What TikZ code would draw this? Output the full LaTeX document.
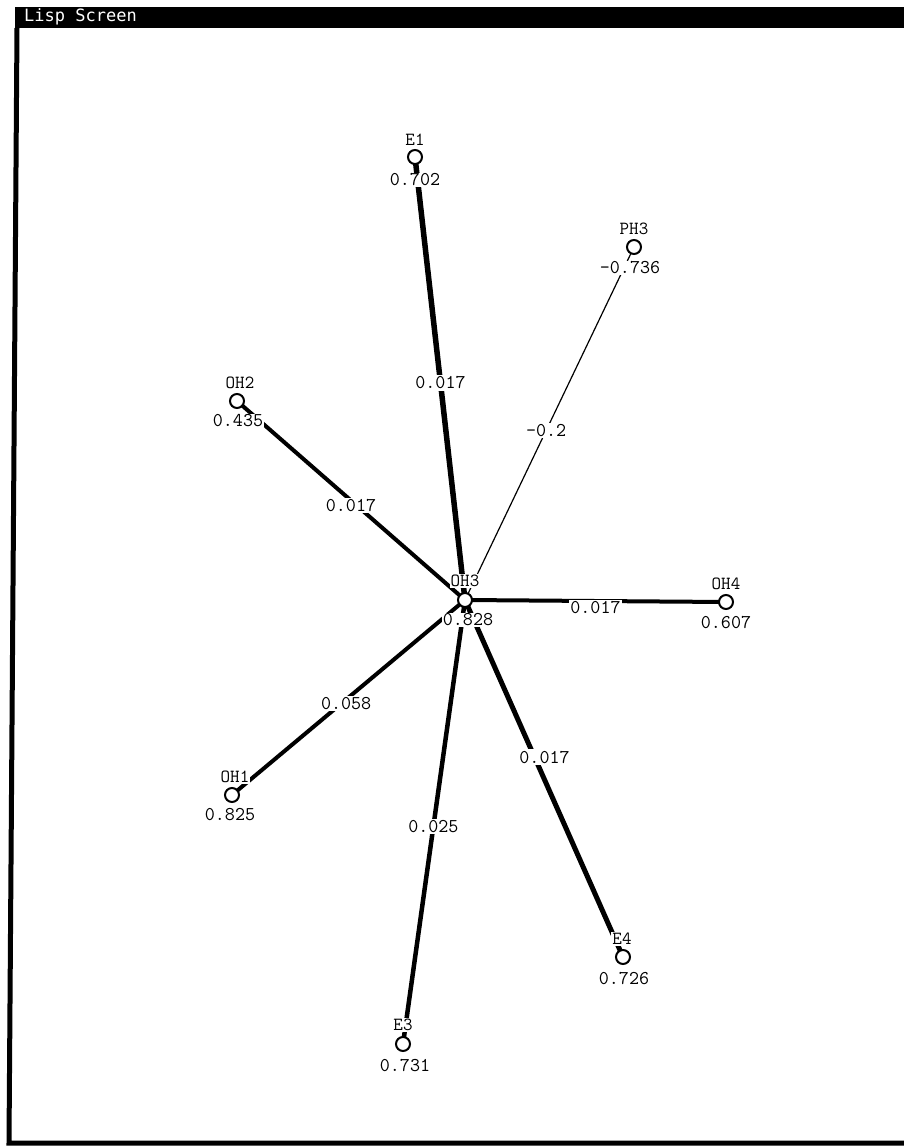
\documentclass[tikz,border=0pt]{standalone}
\usepackage{fontspec}
\usetikzlibrary{backgrounds}
\newfontfamily\titlefont{DejaVu Sans Mono}
\newcommand\lispfont[1]{\ttfamily\addfontfeatures{FakeBold=1.6}\fontsize{#1}{#1}\selectfont}
\tikzset{
  atom/.style={circle, draw=black, line width=2pt, fill=white, minimum size=14pt, inner sep=0pt},
  atomname/.style={font=\lispfont{18.5}, fill=white, inner sep=1pt},
  atomval/.style={font=\lispfont{19.5}, fill=white, inner sep=1pt},
  lbl/.style={font=\lispfont{19.5}, fill=white, inner sep=1.5pt},
  bond/.style={line width=4pt, draw=black},
}
\begin{document}
\begin{tikzpicture}[x=1pt,y=-1pt]
\useasboundingbox (0,0) rectangle (904,1146);
% window frame
\fill[black] (15,7) rectangle (904,28);
\node[anchor=west, text=white, font=\titlefont\fontsize{17}{17}\selectfont, inner sep=0pt] (title) at (24,17) {Lisp Screen};
\draw[line width=5pt] (17,28) -- (9,1143) -- (904,1143);

% atoms
\node[atom] (cE1) at (415,157) {};
\node[atomname] (nE1) at (415,140) {E1};
\node[atomval] (vE1) at (415,180) {0.702};

\node[atom] (cPH3) at (634,247) {};
\node[atomname] (nPH3) at (634,229) {PH3};
\node[atomval] (vPH3) at (630,268) {-0.736};

\node[atom] (cOH2) at (237,401) {};
\node[atomname] (nOH2) at (240,383) {OH2};
\node[atomval] (vOH2) at (238,421) {0.435};

\node[atom] (cOH3) at (465,600) {};
\node[atomname] (nOH3) at (465,581) {OH3};
\node[atomval] (vOH3) at (468,620) {0.828};

\node[atom] (cOH4) at (726,602) {};
\node[atomname] (nOH4) at (726,584) {OH4};
\node[atomval] (vOH4) at (726,623) {0.607};

\node[atom] (cOH1) at (232,795) {};
\node[atomname] (nOH1) at (235,777) {OH1};
\node[atomval] (vOH1) at (230,815) {0.825};

\node[atom] (cE4) at (623,957) {};
\node[atomname] (nE4) at (622,939) {E4};
\node[atomval] (vE4) at (624,979) {0.726};

\node[atom] (cE3) at (403,1044) {};
\node[atomname] (nE3) at (403,1025) {E3};
\node[atomval] (vE3) at (405,1066) {0.731};

% connectors
\begin{pgfonlayer}{background}
\draw[bond, line width=5.5pt] (cE1.center) -- (cOH3.center) node[lbl, pos=0.51] (wE1) {0.017};
\draw[line width=1.2pt] (cPH3.center) -- (cOH3.center) node[lbl, pos=0.52] (wPH3) {-0.2};
\draw[bond] (cOH2.center) -- (cOH3.center) node[lbl, pos=0.5, yshift=-5pt] (wOH2) {0.017};
\draw[bond] (cOH3.center) -- (cOH4.center) node[lbl, pos=0.5, yshift=-7pt] (wOH4) {0.017};
\draw[bond] (cOH1.center) -- (cOH3.center) node[lbl, pos=0.49, yshift=-4pt] (wOH1) {0.058};
\draw[bond, line width=4.5pt] (cE3.center) -- (cOH3.center) node[lbl, pos=0.49] (wE3) {0.025};
\draw[bond, line width=5pt] (cE4.center) -- (cOH3.center) node[lbl, pos=0.56, xshift=10pt] (wE4) {0.017};
\end{pgfonlayer}
\end{tikzpicture}
\end{document}
